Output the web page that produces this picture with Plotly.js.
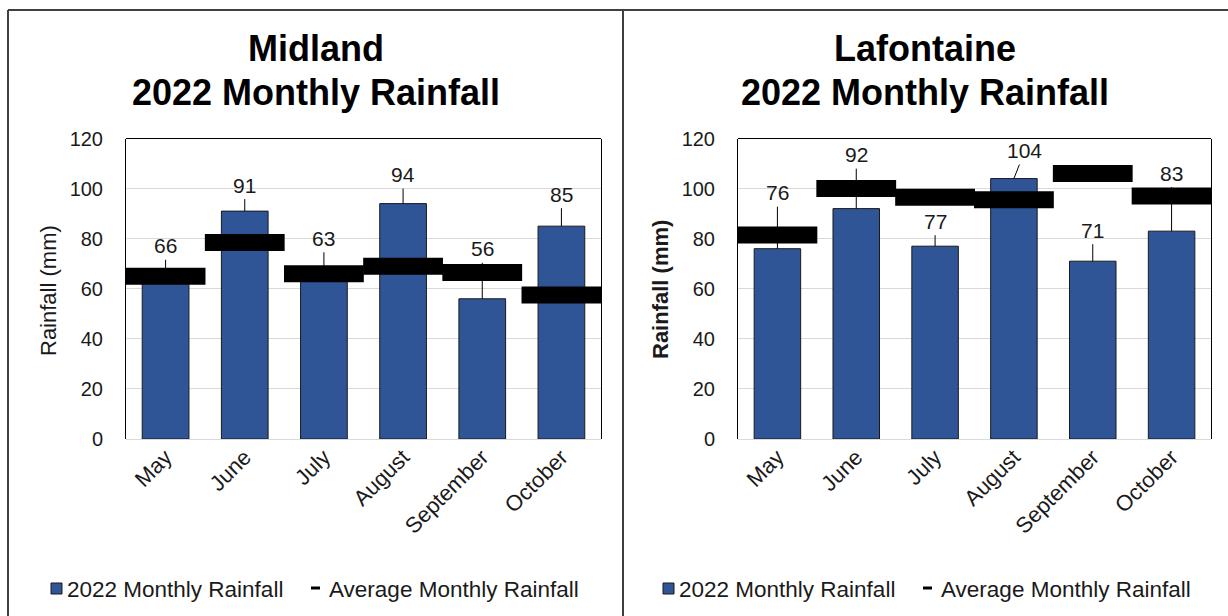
<!DOCTYPE html>
<html><head><meta charset="utf-8">
<script src="https://cdn.plot.ly/plotly-3.0.1.min.js"></script>
<style>html,body{margin:0;padding:0;background:#fff}#chart{width:1228px;height:616px}</style>
</head><body><div id="chart"></div>
<script>
// ---------- data ----------
const months = ['May', 'June', 'July', 'August', 'September', 'October'];
const stations = ['Midland', 'Lafontaine'];
const midlandRain = [66, 91, 63, 94, 56, 85];
const midlandAvg = [65, 78.5, 66, 69, 66.5, 57.5];
const lafontaineRain = [76, 92, 77, 104, 71, 83];
const lafontaineAvg = [81.5, 100, 96.5, 95.5, 106, 97];
const chartSubtitle = '2022 Monthly Rainfall';
const rainName = '2022 Monthly Rainfall';
const avgName = 'Average Monthly Rainfall';
const yTitle = 'Rainfall (mm)';
const yTicks = [0, 20, 40, 60, 80, 100, 120];

// ---------- layout / style ----------
const W = 1228, H = 616;
const px = x => x / W;
const py = y => 1 - y / H;
const FONT = 'Liberation Sans, Arial, sans-serif';
const TXT = '#1a1a1a';
const BLUE = '#2F5597';
// pixel offsets of the moved data labels (leader lines)
const labelShift = [
  [[0, -28], [0, -26], [0, -43], [0, -29], [0, -50], [0, -32]],
  [[0, -56], [0, -54], [0, -25], [11, -28], [0, -31], [0, -58]]
];
const panels = [
  {rain: midlandRain, avg: midlandAvg, xd: [126, 601], cx: 315.5, yBold: false, ytx: 48},
  {rain: lafontaineRain, avg: lafontaineAvg, xd: [738, 1211], cx: 925.5, yBold: true, ytx: 660}
];
const yDomain = [py(439), py(138.5)];

const data = [];
const annotations = [];
const shapes = [];
const layout = {
  width: W, height: H, autosize: false,
  margin: {l: 0, r: 0, t: 0, b: 0, pad: 0},
  paper_bgcolor: '#fff', plot_bgcolor: '#fff',
  showlegend: false, bargap: 0.41,
  font: {family: FONT, color: TXT, size: 20}
};

panels.forEach((p, i) => {
  const sfx = i === 0 ? '' : '2';
  const xa = 'x' + sfx, ya = 'y' + sfx;
  data.push({
    type: 'bar', x: months, y: p.rain, xaxis: xa, yaxis: ya, name: rainName,
    marker: {color: BLUE, line: {color: '#1a1a1a', width: 1}},
    hoverinfo: 'x+y'
  });
  data.push({
    type: 'scatter', mode: 'markers', x: months, y: p.avg, xaxis: xa, yaxis: ya, name: avgName,
    marker: {symbol: 'line-ew', size: 57, color: '#000', line: {width: 17, color: '#000'}},
    cliponaxis: false, hoverinfo: 'x+y'
  });
  layout['xaxis' + sfx] = {
    domain: [px(p.xd[0]), px(p.xd[1])], anchor: ya, type: 'category',
    range: [-0.5, months.length - 0.5], autorange: false,
    showgrid: false, zeroline: false, showline: false, ticks: '',
    tickangle: -45, tickfont: {size: 22, color: TXT, family: FONT},
    automargin: false, fixedrange: true
  };
  layout['yaxis' + sfx] = {
    domain: yDomain, anchor: xa, range: [0, 120], autorange: false, tickvals: yTicks,
    showgrid: true, gridcolor: '#d9d9d9', gridwidth: 1,
    zeroline: true, zerolinecolor: '#d9d9d9', zerolinewidth: 1,
    showline: true, mirror: true, linecolor: '#000', linewidth: 1,
    ticks: '', ticklabelstandoff: 18,
    tickfont: {size: 20, color: TXT, family: FONT},
    automargin: false, fixedrange: true
  };
  // top border of plot
  shapes.push({type: 'line', xref: 'paper', yref: 'paper', x0: px(p.xd[0]), x1: px(p.xd[1]),
    y0: yDomain[1], y1: yDomain[1], line: {color: '#000', width: 1}});
  // data labels with leader lines
  p.rain.forEach((v, j) => {
    annotations.push({
      x: months[j], y: v, xref: xa, yref: ya, text: String(v),
      showarrow: true, arrowhead: 0, arrowwidth: 1, arrowcolor: '#000', standoff: 0,
      ax: labelShift[i][j][0], ay: labelShift[i][j][1], borderpad: 2,
      font: {size: 21, color: TXT, family: FONT}
    });
  });
  // titles
  annotations.push({xref: 'paper', yref: 'paper', x: px(p.cx), y: py(48), xanchor: 'center', yanchor: 'middle',
    text: '<b>' + stations[i] + '</b>', showarrow: false, font: {size: 36, color: '#000', family: FONT}});
  annotations.push({xref: 'paper', yref: 'paper', x: px(p.cx), y: py(92), xanchor: 'center', yanchor: 'middle',
    text: '<b>' + chartSubtitle + '</b>', showarrow: false, font: {size: 36, color: '#000', family: FONT}});
  // y axis title
  annotations.push({xref: 'paper', yref: 'paper', x: px(p.ytx), y: py(290), xanchor: 'center', yanchor: 'middle',
    text: p.yBold ? '<b>' + yTitle + '</b>' : yTitle, textangle: -90, showarrow: false,
    font: {size: 22, color: TXT, family: FONT}});
  // legend (manual)
  const off = i * 612;
  shapes.push({type: 'rect', xref: 'paper', yref: 'paper', x0: px(51 + off), x1: px(62 + off),
    y0: py(594), y1: py(583), fillcolor: BLUE, line: {color: '#1a1a1a', width: 1}});
  annotations.push({xref: 'paper', yref: 'paper', x: px(65 + off), y: py(589), xanchor: 'left', yanchor: 'middle',
    text: rainName, showarrow: false, font: {size: 22.5, color: TXT, family: FONT}});
  shapes.push({type: 'line', xref: 'paper', yref: 'paper', x0: px(311 + off), x1: px(320 + off),
    y0: py(588), y1: py(588), line: {color: '#000', width: 3}});
  annotations.push({xref: 'paper', yref: 'paper', x: px(327 + off), y: py(589), xanchor: 'left', yanchor: 'middle',
    text: avgName, showarrow: false, font: {size: 22.5, color: TXT, family: FONT}});
});

// panel borders
const BORDER = {color: '#404040', width: 2};
shapes.push({type: 'line', xref: 'paper', yref: 'paper', x0: px(8), x1: 1, y0: py(10), y1: py(10), line: BORDER});
shapes.push({type: 'line', xref: 'paper', yref: 'paper', x0: px(8), x1: px(8), y0: py(10), y1: 0, line: BORDER});
shapes.push({type: 'line', xref: 'paper', yref: 'paper', x0: px(623), x1: px(623), y0: py(10), y1: 0, line: BORDER});

layout.annotations = annotations;
layout.shapes = shapes;
Plotly.newPlot('chart', data, layout, {staticPlot: true, displayModeBar: false});
</script>
</body></html>
